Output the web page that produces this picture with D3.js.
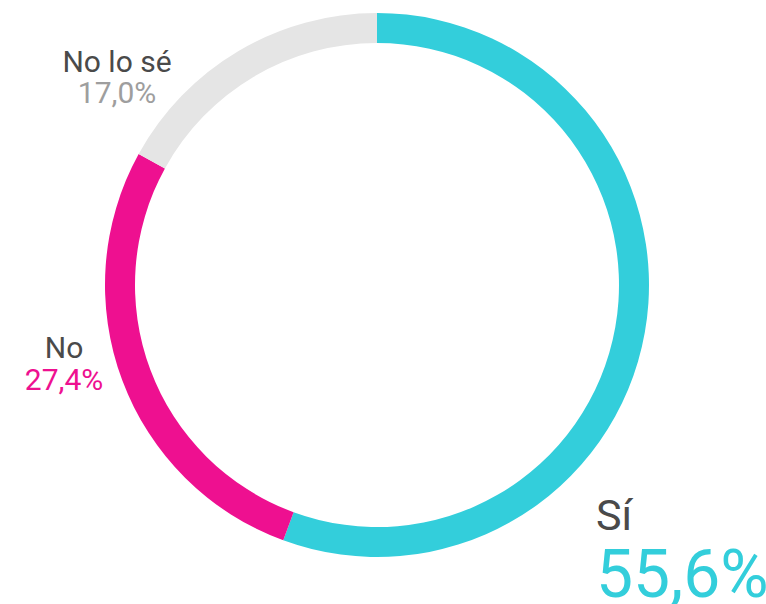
<!DOCTYPE html>
<meta charset="utf-8">
<script src="https://cdn.jsdelivr.net/npm/d3@7"></script>
<style>
  body { margin: 0; background: #fff; }
  svg { display: block; font-family: Roboto, sans-serif; }
</style>
<body>
<script>

var categories = ["Sí", "No", "No lo sé"]
var values = [55.6, 27.4, 17.0]
var colors = ["#33CEDB", "#EE1090", "#E5E5E5"]
var valueColors = ["#33CEDB", "#EE1090", "#9E9E9E"]

var width = 766
var height = 604
var cx = 377, cy = 285
var outerR = 272, innerR = 242

var svg = d3.select("body").append("svg")
            .attr("width", width)
            .attr("height", height)

var pie = d3.pie().sort(null).value(function(d) { return d })
var arc = d3.arc().innerRadius(innerR).outerRadius(outerR)

var g = svg.append("g").attr("transform", "translate(" + cx + "," + cy + ")")

g.selectAll("path")
  .data(pie(values))
  .enter().append("path")
  .attr("d", arc)
  .attr("fill", function(d, i) { return colors[i] })

var fmt = function(v) { return d3.format(".1f")(v).replace(".", ",") + "%" }

// label anchors: [x, nameBaseline, valueBaseline, anchor, nameSize, valueSize]
var labelPos = [
  [596, 530, 597, "start", 43, 66],
  [64, 358, 390, "middle", 30, 30],
  [117, 72, 103, "middle", 30, 30]
]

categories.forEach(function(c, i) {
  var p = labelPos[i]
  svg.append("text")
     .attr("x", p[0]).attr("y", p[1])
     .attr("text-anchor", p[3])
     .attr("font-size", p[4])
     .attr("fill", "#4A4A4A")
     .text(c)
  svg.append("text")
     .attr("x", p[0]).attr("y", p[2])
     .attr("text-anchor", p[3])
     .attr("font-size", p[5])
     .attr("fill", valueColors[i])
     .text(fmt(values[i]))
})

</script>
</body>
